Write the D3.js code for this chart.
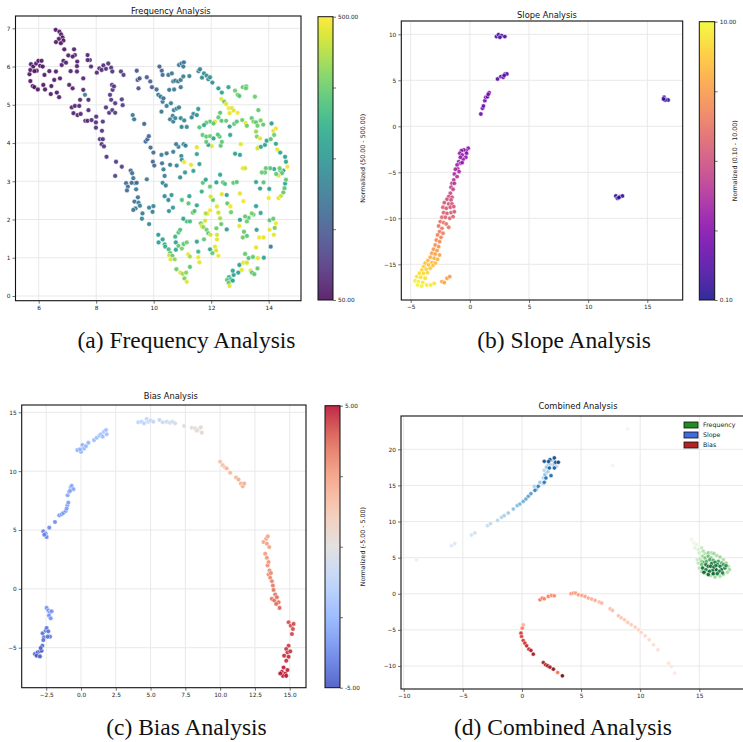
<!DOCTYPE html>
<html><head><meta charset="utf-8">
<script src="https://cdn.jsdelivr.net/npm/d3@7"></script>
<style>body{margin:0;background:#fff}svg{display:block}</style>
</head><body>
<script>
// ---------------- DATA ----------------
const titles = ["Frequency Analysis","Slope Analysis","Bias Analysis","Combined Analysis"];
const captions = ["(a) Frequency Analysis","(b) Slope Analysis","(c) Bias Analysis","(d) Combined Analysis"];
const cbLabels = ["Normalized (50.00 - 500.00)","Normalized (0.10 - 10.00)","Normalized (-5.00 - 5.00)"];
const legendNames = ["Frequency","Slope","Bias"];
const ticksA = {x:[6,8,10,12,14], y:[0,1,2,3,4,5,6,7]};
const ticksB = {x:[-5,0,5,10,15], y:[-15,-10,-5,0,5,10]};
const ticksC = {x:[-2.5,0,2.5,5,7.5,10,12.5,15], y:[-5,0,5,10,15]};
const ticksD = {x:[-10,-5,0,5,10,15], y:[-10,-5,0,5,10,15,20]};
const rangeA = [50,500], rangeB = [0.1,10], rangeC = [-5,5];

// Frequency: [x, y, value]
const freqPoints = [
[6.59,6.96,60],[6.72,6.91,58],[6.78,6.84,62],[6.83,6.76,60],[6.70,6.72,58],[6.86,6.68,62],[6.60,6.64,60],[6.77,6.61,58],[6.89,6.45,64],
[5.68,5.80,60],[5.71,5.91,62],[5.73,6.06,60],[5.81,6.00,58],[5.91,6.08,62],[5.99,6.15,60],[6.10,6.15,64],[6.05,6.02,60],[6.14,6.00,62],[5.93,5.89,58],[5.85,5.88,60],[5.71,5.62,62],[5.79,5.49,60],[5.85,5.46,58],[5.97,5.40,62],[6.16,5.52,60],[6.20,5.78,64],[6.22,5.40,60],[6.37,5.88,66],[6.44,5.49,62],[6.42,5.28,60],[6.54,5.65,64],[6.60,5.87,66],[6.63,5.32,62],[6.71,5.20,64],[6.74,5.69,66],[6.80,6.04,68],[6.86,6.15,66],[6.95,6.10,70],[7.03,6.29,68],[7.11,5.88,72],[7.23,6.45,70],[7.26,6.30,72],[7.34,6.13,70],[7.33,6.01,74],[7.18,6.26,70],[7.06,5.52,72],[7.18,5.43,74],[7.33,5.87,76],[7.55,5.69,78],[7.55,5.39,76],[7.15,4.93,74],[7.26,4.97,76],[7.41,4.97,78],[7.44,5.13,80],[7.61,5.26,230],[7.73,5.13,82],[7.21,4.78,76],[7.35,4.73,78],[7.46,4.76,80],[7.70,6.30,80],[7.78,6.17,82],[7.70,6.17,84],[7.82,6.00,82],[7.73,4.86,84],[7.62,4.58,86],[7.70,4.58,84],[7.84,4.60,88],[8.00,4.69,90],[7.99,4.54,88],[7.99,4.40,92],[8.02,5.84,86],[8.11,5.95,88],[8.19,5.91,90],[8.25,6.03,92],[8.34,5.94,94],[8.42,6.08,96],[8.52,5.97,98],[8.56,5.87,100],[8.23,4.56,96],[8.20,4.32,98],[8.13,4.10,94],[8.23,4.10,100],[8.19,3.97,96],[8.27,3.91,102],[8.36,3.64,104],[8.34,4.93,96],[8.45,4.79,100],[8.52,5.13,102],[8.48,5.26,98],[8.57,5.39,104],[8.55,5.52,100],[8.62,5.48,106],[8.66,5.04,104],[8.56,4.86,102],[8.66,4.79,108],[8.89,5.14,110],[8.92,4.99,112],[8.86,5.87,108],[8.95,5.78,112],[8.69,3.51,110],[8.66,3.14,116],[8.89,3.38,118],
[9.27,4.73,210],[9.32,4.62,210],[9.41,5.89,150],[9.44,5.65,140],[9.51,5.69,150],[9.47,5.43,140],[9.67,4.50,170],[9.76,5.72,160],[9.88,5.61,170],[9.94,5.46,160],
[9.72,4.04,180],[9.78,4.10,170],[9.83,4.18,180],[9.89,3.88,190],[9.99,3.75,200],[9.97,3.51,180],[10.02,3.41,190],
[10.27,3.69,220],[10.29,3.47,200],[10.34,3.31,230],[10.38,3.14,220],[10.31,2.96,240],[10.42,2.89,230],[10.38,2.61,250],[10.51,2.51,240],[10.62,2.64,270],[10.53,2.22,260],[10.67,2.31,280],[10.45,3.73,210],[10.57,3.43,220],[10.80,3.41,240],[10.92,3.10,260],[11.09,3.23,280],[10.96,3.66,240],[10.86,3.90,230],[10.78,3.97,220],[10.68,3.77,230],[11.04,3.97,250],[11.11,3.93,230],[10.98,3.56,260],
[10.10,5.40,190],[10.16,5.26,200],[10.24,5.21,210],[10.31,5.08,220],[10.27,4.82,210],[10.34,5.17,200],[10.45,4.97,220],[10.60,5.04,230],[10.70,4.86,220],[10.80,4.90,240],[10.88,4.93,230],[10.66,4.71,220],[10.57,4.62,210],[10.68,4.56,230],[10.75,4.65,240],[10.94,4.65,250],[11.06,4.59,240],[10.97,4.42,230],[11.15,4.42,250],
[10.20,6.00,170],[10.28,5.89,180],[10.31,5.78,190],[10.51,5.78,200],[10.63,5.82,210],[10.68,5.61,200],[10.71,5.40,220],[10.54,5.39,210],[10.75,5.63,220],[10.85,5.61,210],[10.94,5.65,220],[11.03,5.74,230],[10.94,5.46,210],[10.88,6.04,200],[10.97,6.08,210],[11.05,6.11,200],[11.03,6.00,220],[11.24,5.75,230],[11.38,4.76,260],[11.50,4.73,250],[11.55,4.89,270],[11.32,4.67,240],[11.56,5.88,240],[11.61,5.93,230],[11.68,5.71,250],[11.75,5.82,240],[11.84,5.76,260],[11.90,5.67,250],[11.96,5.72,270],[12.04,5.58,260],[12.25,5.43,280],[12.37,5.32,300],
[9.29,3.08,200],[9.35,2.95,210],[9.39,2.79,220],[9.23,2.96,190],[9.04,2.95,180],[9.10,2.86,200],[9.07,2.76,190],[9.20,3.28,180],[9.25,3.21,190],[9.41,2.96,200],[9.33,2.47,200],[9.37,2.29,210],[9.47,2.44,220],[9.52,2.36,230],[9.29,2.25,210],[9.61,2.16,220],[9.59,2.02,240],[9.84,2.31,230],[9.99,2.35,240],[9.96,2.20,230],[9.84,1.88,240],[9.45,2.58,200],[9.76,3.05,210],
[10.16,1.60,280],[10.31,1.48,300],[10.17,1.40,290],[10.38,1.35,320],[10.40,1.29,330],[10.52,1.22,350],[10.57,1.12,360],[10.54,1.06,470],[10.65,1.05,380],[10.59,0.96,480],[10.73,0.96,420],[10.77,1.21,300],[10.77,1.40,290],[10.86,1.66,370],[10.92,1.73,360],[10.75,1.55,340],[10.86,1.31,380],[10.98,1.24,400],[11.04,1.36,370],[11.15,1.40,390],[10.79,0.70,390],[10.93,0.61,470],[11.01,0.58,430],[11.07,0.46,400],[11.15,0.37,480],[11.13,0.61,410],[11.26,0.76,370],[11.20,1.09,480],[11.26,1.03,440],[11.55,1.01,490],[11.59,0.88,480],[11.15,1.95,360],[11.03,2.02,300],[11.26,1.95,350],[10.98,2.51,360],[11.21,2.42,370],[11.24,2.61,300],[11.36,2.18,380],[11.42,2.22,360],[11.50,2.37,310],[11.50,1.42,300],[11.55,1.16,340],[11.64,1.90,390],[11.67,1.83,470],[11.73,1.80,420],[11.79,1.97,470],[11.87,2.15,480],[11.96,2.24,490],[11.81,2.16,440],[11.75,1.48,380],[11.84,1.73,390],[11.90,1.64,370],[11.98,1.60,470],[11.96,1.22,300],[12.13,1.29,480],[12.17,1.19,470],[12.25,1.05,490],[12.04,1.12,380],[12.20,1.48,480],[12.20,1.60,470],[12.18,1.77,390],[12.06,2.51,380],[11.67,2.73,330],[11.71,2.96,370],[11.96,2.86,380],[11.98,2.60,470],[12.20,2.34,480],[12.25,2.18,460],[12.31,2.03,440],[12.35,1.88,380],[12.18,2.97,290],[12.31,3.17,300],[12.37,2.66,480],[12.41,2.97,370],[12.48,2.93,360],[12.54,2.64,300],[12.56,2.42,380],[12.67,2.34,490],[12.69,2.19,390],[12.54,1.74,290],[12.77,2.96,380],[12.89,2.98,370],[13.00,2.68,480],[13.12,2.48,490],[13.10,3.34,480],[13.18,3.34,470],[13.03,3.97,480],[13.00,3.69,290],[12.83,3.72,300],[12.33,3.93,370],[12.37,4.03,380],[12.29,4.17,360],[12.66,4.21,300],[12.64,4.43,290],[12.80,4.50,380],[12.89,4.56,370],[13.08,4.60,390],[13.20,4.52,480],[13.24,4.45,390],[13.41,4.65,380],[13.47,4.56,400],[13.56,4.54,380],[13.61,4.45,390],[13.72,4.59,400],[13.81,4.48,380],[13.64,4.86,380],[13.56,4.30,420],[13.59,4.17,400],[13.70,4.12,480],[13.64,3.90,490],[13.61,3.86,470],[13.73,3.90,300],[13.87,3.95,290],[13.93,4.06,300],[14.07,4.10,370],[14.10,4.51,290],[14.16,4.32,480],[14.25,4.38,490],[14.19,4.21,390],[14.25,3.98,300],[14.30,3.83,480],[14.40,3.75,300],[14.57,3.64,290],[14.60,3.51,300],[14.65,3.38,490],[14.51,3.28,300],[14.40,3.28,380],[14.46,3.21,370],[14.38,3.34,390],[14.34,3.15,480],[14.26,3.19,380],[14.19,3.32,300],[14.05,3.34,370],[13.90,3.34,380],[13.87,3.23,370],[13.76,3.23,390],[13.56,2.98,300],[13.82,2.97,370],[14.02,2.80,300],[14.00,2.56,490],[14.34,2.56,480],[14.43,2.62,460],[14.51,2.71,380],[14.55,2.82,370],[14.57,2.94,300],[14.60,3.04,380],[13.70,2.81,290],[13.56,2.35,290],[13.72,2.17,300],[13.47,2.13,380],[13.30,2.04,370],[13.18,2.08,380],[13.24,1.95,390],[13.41,2.16,400],[13.00,1.99,290],[12.98,1.83,480],[13.14,1.68,380],[13.24,1.57,370],[13.10,1.53,390],[13.58,1.73,290],[13.56,1.27,480],[13.67,1.53,490],[13.82,1.53,480],[14.03,1.98,370],[14.16,2.02,380],[14.03,1.73,480],[14.25,1.90,490],[14.21,1.78,390],[14.18,1.60,480],[14.07,1.29,220],[13.18,1.10,380],[13.30,0.99,370],[13.12,0.87,480],[13.24,0.87,470],[12.98,0.81,290],[13.06,0.68,480],[12.94,0.61,290],[13.45,1.02,380],[13.62,0.99,480],[13.83,1.00,300],[13.61,0.72,380],[13.37,0.66,480],[13.42,0.61,370],[13.50,0.57,380],[12.78,0.55,290],[12.75,0.66,300],[12.62,0.49,290],[12.67,0.44,370],[12.55,0.42,380],[12.61,0.34,370],[12.64,0.26,480],[12.75,0.40,300],
[13.10,5.46,380],[13.22,5.48,370],[13.21,5.43,390],[12.92,5.26,380],[12.98,5.23,370],[12.83,5.37,390],[12.60,5.46,300],[12.35,5.15,480],[12.45,5.08,380],[12.52,5.02,480],[12.61,4.91,490],[12.72,4.91,470],[12.78,4.85,480],[12.92,4.79,490],[12.64,4.78,480],[12.31,4.79,370],[12.25,4.67,380],[12.13,4.56,480],[11.96,4.56,370],[11.83,4.53,380],[11.75,4.47,300],[11.59,4.41,370],[11.70,4.21,380],[11.83,4.17,370],[11.96,4.18,390],[12.08,4.12,300],[12.02,3.92,480],[11.90,3.95,300],[11.83,4.03,380],[12.23,4.22,370],[12.08,4.51,380],[12.36,4.58,370],[12.52,4.58,380],[13.52,5.21,390],[11.50,3.89,480],[11.50,3.71,300],[11.59,3.45,290],[11.30,3.43,480],[11.06,3.50,490],[11.38,3.27,300],[11.81,3.04,300]
];

// Slope: [x, y, value]
const slopePoints = [
[-0.14,-2.39,2.6],[-0.31,-2.64,2.7],[-0.51,-2.57,2.6],[-0.71,-2.64,2.8],[-0.85,-2.93,2.9],[-0.65,-3.12,2.8],[-0.28,-2.93,2.7],[-0.34,-3.37,2.9],[-0.57,-3.59,3.0],[-0.80,-3.37,3.0],[-0.94,-3.84,3.1],[-0.80,-4.02,3.2],[-1.08,-4.20,3.3],[-0.65,-3.95,3.1],
[-1.02,-4.64,3.5],[-1.22,-4.67,3.6],[-0.91,-4.93,3.7],[-1.31,-5.18,3.8],[-1.08,-5.47,3.9],[-1.36,-5.83,4.0],[-1.51,-6.20,4.2],[-1.31,-6.20,4.1],[-1.59,-6.63,4.5],[-1.42,-6.85,4.6],[-1.65,-7.28,4.8],[-1.79,-7.64,5.0],[-1.51,-7.72,4.9],
[-1.93,-7.93,5.2],[-1.59,-8.01,5.1],[-2.16,-8.30,5.3],[-1.79,-8.44,5.3],[-1.51,-8.44,5.2],[-2.27,-8.80,5.4],[-1.99,-8.91,5.4],[-1.65,-8.80,5.3],[-1.36,-8.73,5.4],[-2.22,-9.38,5.6],[-1.93,-9.46,5.5],[-1.59,-9.38,5.6],[-1.31,-9.28,5.5],[-2.36,-9.89,5.8],[-2.07,-9.89,5.7],[-1.70,-10.0,5.8],[-1.42,-9.82,5.7],
[-2.50,-10.36,6.2],[-2.22,-10.47,6.2],[-1.99,-10.62,6.3],[-1.79,-10.98,6.4],[-2.64,-10.83,6.3],[-2.36,-11.09,6.5],[-2.56,-11.45,6.5],[-2.27,-11.63,6.6],[-2.73,-11.81,6.7],[-2.44,-12.07,6.8],
[-2.84,-12.36,7.0],[-2.56,-12.54,7.0],[-2.93,-12.90,7.2],[-2.64,-13.08,7.3],[-3.07,-13.37,7.4],[-2.78,-13.51,7.5],[-3.21,-13.80,7.6],[-2.93,-13.88,7.7],[-2.56,-13.99,7.8],
[-3.35,-14.24,8.0],[-3.01,-14.35,8.1],[-2.73,-14.46,8.2],[-3.55,-14.60,8.3],[-3.21,-14.82,8.4],[-2.93,-14.89,8.3],[-3.78,-14.89,8.6],[-3.49,-15.07,8.5],[-3.13,-15.14,8.6],
[-3.92,-15.25,9.0],[-4.06,-15.62,9.1],[-3.69,-15.54,8.9],[-3.35,-15.43,8.8],[-4.26,-15.98,9.3],[-3.92,-15.98,9.2],[-3.58,-15.91,9.1],[-4.49,-16.34,9.5],[-4.15,-16.41,9.4],[-3.78,-16.52,9.3],[-4.63,-16.78,9.7],[-4.35,-16.88,9.8],[-3.98,-16.99,9.6],[-4.43,-17.25,9.9],[-4.06,-17.36,9.8],[-3.64,-17.25,9.7],[-3.30,-17.25,9.6],[-3.01,-17.07,9.5],
[-2.36,-16.88,7.8],[-2.16,-16.99,7.9],[-1.93,-16.52,7.6],[-1.70,-16.34,7.5],
[2.25,9.75,1.0],[2.42,9.96,1.1],[2.70,9.86,1.0],[2.96,9.75,1.1],[2.54,9.67,1.2],
[2.34,5.14,1.4],[2.62,5.40,1.3],[2.82,5.33,1.4],[2.99,5.69,1.3],[3.13,5.69,1.4],[2.90,5.54,1.5],
[0.93,1.34,2.0],[1.07,1.96,2.1],[1.15,2.21,2.0],[1.27,2.79,2.2],[1.35,3.15,2.1],[1.49,3.22,2.0],[1.63,3.66,2.1],[1.55,3.48,2.2],
[16.42,3.15,0.6],[16.56,2.93,0.7],[16.76,2.86,0.6],[16.51,2.86,0.7],[16.37,2.97,0.6],
[12.34,-7.57,0.6],[12.48,-7.83,0.7],[12.68,-7.64,0.6],[12.90,-7.57,0.7],[12.60,-7.75,0.6]
];

// Bias: [x, y, value]
const biasPoints = [
[-3.31,-5.54,-4.8],[-3.12,-5.40,-4.8],[-2.95,-5.31,-4.7],[-3.19,-5.68,-4.9],[-2.95,-5.74,-4.8],[-2.83,-5.26,-4.7],[-2.78,-4.83,-4.6],[-2.90,-5.03,-4.7],
[-2.76,-3.78,-4.3],[-2.66,-4.12,-4.4],[-2.54,-3.55,-4.2],[-2.47,-3.32,-4.2],[-2.35,-3.61,-4.3],[-2.23,-4.06,-4.4],[-2.40,-4.06,-4.3],[-2.71,-4.35,-4.4],
[-2.47,-1.62,-3.5],[-2.35,-1.85,-3.6],[-2.23,-1.99,-3.5],[-2.11,-1.90,-3.4],[-2.30,-2.27,-3.6],[-2.18,-2.50,-3.5],
[-2.71,4.89,-3.9],[-2.54,4.69,-3.8],[-2.47,4.40,-3.8],[-2.64,4.60,-3.9],[-2.28,5.20,-3.7],[-1.87,5.68,-3.6],
[-1.56,6.25,-3.4],[-1.39,6.34,-3.3],[-1.27,6.45,-3.3],[-1.10,6.62,-3.2],[-0.98,7.10,-3.2],[-1.03,6.82,-3.1],[-0.91,7.33,-3.1],
[-0.96,7.95,-3.0],[-0.86,8.24,-3.0],[-0.74,8.61,-2.9],[-0.67,8.75,-2.9],[-0.55,8.47,-3.0],[-0.79,8.32,-2.9],
[-0.26,11.79,-2.7],[0.0,11.65,-2.7],[0.10,12.22,-2.6],[0.22,11.93,-2.6],[0.36,12.13,-2.5],[0.53,12.41,-2.5],[-0.07,11.85,-2.6],
[0.94,12.64,-2.3],[1.13,12.84,-2.2],[1.32,13.01,-2.2],[1.44,13.13,-2.1],[1.65,13.35,-2.0],[1.80,13.49,-2.0],[1.85,13.13,-2.0],[1.56,12.93,-2.1],
[4.12,14.15,-1.3],[4.36,14.20,-1.3],[4.53,14.06,-1.2],[4.72,14.43,-1.2],[4.84,14.20,-1.1],[5.01,14.29,-1.1],[5.20,14.20,-1.0],
[5.64,14.35,-0.9],[5.88,14.15,-0.8],[6.16,14.20,-0.7],[6.40,14.12,-0.6],[6.59,14.20,-0.6],[6.76,14.06,-0.5],[7.41,13.84,-0.2],
[7.96,13.69,0.2],[8.20,13.64,0.3],[8.44,13.55,0.3],[8.61,13.72,0.4],[8.68,13.27,0.4],[8.32,13.44,0.3],
[10.0,10.80,1.5],[10.19,10.51,1.6],[10.36,10.31,1.6],[10.48,10.23,1.7],[10.72,9.86,1.8],[11.15,9.46,1.9],[11.32,9.29,2.0],[11.49,8.95,2.0],[11.63,8.72,2.1],[11.73,8.95,2.1],
[13.12,3.98,2.4],[13.31,4.26,2.4],[13.43,4.46,2.3],[13.36,3.83,2.5],[13.24,2.98,2.6],[13.36,2.64,2.7],[13.48,2.27,2.8],[13.41,1.99,2.8],[13.55,1.56,2.9],[13.48,1.22,3.0],[13.65,1.34,3.0],[13.60,0.94,3.1],[13.72,0.65,3.2],[13.79,0.28,3.3],[13.84,-0.09,3.4],[13.96,-0.48,3.5],[13.72,-0.85,3.6],[13.89,-0.99,3.6],[14.08,-0.71,3.6],[14.20,-1.14,3.7],[14.27,-1.62,3.8],[14.03,-1.28,3.7],[13.53,3.55,2.5],
[14.92,-2.84,4.1],[15.08,-3.13,4.2],[15.23,-3.41,4.2],[15.16,-3.84,4.3],[15.28,-2.98,4.2],
[14.92,-4.83,4.4],[14.75,-5.11,4.5],[14.84,-5.40,4.5],[15.04,-5.31,4.5],[14.60,-5.68,4.6],[14.92,-5.77,4.6],[14.75,-6.11,4.6],
[14.56,-6.68,4.8],[14.44,-7.05,4.9],[14.68,-7.19,4.9],[14.84,-6.90,4.8],[14.51,-7.39,4.9],[14.32,-7.19,4.9],[14.75,-7.39,5.0]
];

// Combined: [x, y, intensity 0-1]
const combSlope = [
[8.95,22.82,0.06],[7.66,17.74,0.05],[-8.93,4.71,0.10],[-5.96,6.65,0.15],[-5.68,6.93,0.16],[-4.27,8.13,0.20],[-3.98,8.41,0.22],[-2.91,9.42,0.26],[-2.66,9.70,0.28],[-2.06,10.16,0.30],[-1.72,10.58,0.33],[-1.50,10.81,0.35],[-1.16,11.18,0.38],[-0.73,11.73,0.42],[-0.40,12.19,0.45],[-0.17,12.42,0.48],[0.11,12.79,0.52],[0.34,13.12,0.55],[0.54,13.49,0.56],[0.76,13.86,0.60],[1.24,14.50,0.40],[1.05,14.87,0.35],[1.53,15.43,0.40],[1.81,16.03,0.35],[1.95,16.49,0.45],[2.09,16.81,0.40],[1.89,17.09,0.30],[2.09,17.55,0.45],[2.23,17.88,0.35],[2.66,17.88,0.40],[2.40,17.90,0.30],[1.80,15.20,0.30],[2.90,17.60,0.35],[2.60,18.50,0.35],[2.00,15.90,0.25],[2.20,16.90,0.35],
[1.10,14.32,0.70],[1.38,14.87,0.72],[1.89,15.43,0.75],[2.03,16.03,0.78],[2.46,16.35,0.80],[2.32,17.41,0.85],[2.74,17.41,0.88],[1.89,18.34,0.90],[2.37,18.57,0.88],[2.74,18.80,0.95],[2.85,18.20,0.92],[3.08,18.20,0.95],[2.25,18.30,0.90]
];
const combFreq = [
[14.35,7.49,0.08],[14.55,7.03,0.10],[14.77,6.80,0.12],[14.63,6.34,0.14],[14.92,6.11,0.18],[15.20,6.34,0.25],[15.00,5.65,0.22],[15.34,5.88,0.35],[15.48,5.55,0.30],[15.28,5.18,0.40],[15.76,5.65,0.45],[16.04,5.65,0.35],[16.24,5.55,0.40],[16.47,5.28,0.35],[16.75,5.09,0.40],[17.03,4.72,0.35],[17.26,4.26,0.40],[17.45,3.80,0.35],[17.54,3.34,0.40],[17.37,2.97,0.35],[17.03,2.65,0.40],[16.75,2.41,0.35],[16.33,2.32,0.40],[15.96,2.51,0.35],[15.62,2.78,0.30],[15.20,3.11,0.35],[15.00,3.57,0.30],[14.92,4.26,0.30],[14.83,4.72,0.25],[15.06,4.82,0.30],
[15.48,4.95,0.50],[15.76,5.18,0.55],[15.99,4.95,0.50],[15.20,4.49,0.45],[15.39,4.35,0.60],[15.20,4.03,0.55],[15.62,4.49,0.60],[15.90,4.72,0.65],[16.18,4.63,0.60],[16.61,4.49,0.65],[16.89,4.26,0.60],[17.03,4.03,0.70],
[15.28,3.57,0.90],[15.56,4.03,0.85],[15.76,3.80,0.90],[16.04,4.17,0.85],[16.33,4.35,0.80],[16.52,4.03,0.90],[16.75,3.80,0.85],[16.89,3.34,0.90],[16.69,3.11,0.85],[16.41,3.34,0.95],[16.13,3.25,0.85],[15.85,3.11,0.90],[15.56,3.34,0.80],[15.39,2.97,0.95],[15.76,2.65,0.90],[16.18,2.78,0.95],[16.52,2.78,0.85],[16.97,2.88,0.80],[17.17,3.57,0.85],[17.26,3.89,0.75],[15.96,3.80,0.90],[16.24,3.71,0.95],[16.40,3.90,0.80]
];
const combBias = [
[1.53,-0.83,0.50],[1.72,-0.60,0.48],[1.89,-0.69,0.45],[2.23,-0.37,0.45],[2.51,-0.23,0.42],[2.74,-0.28,0.42],
[4.15,0.00,0.40],[4.35,0.09,0.38],[4.55,0.09,0.36],[4.77,-0.14,0.35],[5.06,-0.23,0.34],[5.34,-0.37,0.33],[5.62,-0.60,0.32],[5.90,-0.74,0.30],[6.19,-0.92,0.30],[6.55,-1.15,0.28],[6.75,-1.29,0.28],[7.46,-2.08,0.26],[7.66,-2.31,0.25],[8.16,-3.05,0.24],[8.39,-3.33,0.23],[8.67,-3.60,0.22],[8.95,-3.97,0.21],[9.24,-4.30,0.20],[9.58,-4.62,0.19],[9.86,-4.99,0.18],[10.08,-5.36,0.17],[10.42,-5.82,0.16],[10.76,-6.37,0.15],[11.13,-7.07,0.14],[11.50,-7.76,0.13],[12.40,-9.61,0.11],[12.63,-10.07,0.10],[12.91,-10.99,0.08],
[0.11,-4.30,0.30],[0.03,-4.76,0.45],[-0.08,-5.45,0.70],[-0.03,-5.91,0.65],[0.11,-6.47,0.70],[0.25,-6.84,0.72],[0.40,-7.21,0.75],[0.59,-7.67,0.80],[0.76,-7.85,0.82],[0.96,-8.36,0.88],
[1.81,-9.52,0.85],[2.01,-9.84,0.88],[2.18,-9.98,0.90],[2.37,-10.16,0.88],[2.66,-10.44,0.92],[3.02,-10.90,0.50],[3.42,-11.36,0.98]
];

// ---------------- RENDER ----------------
const W = 743, H = 742;
const FONT = "DejaVu Sans, sans-serif";
const svg = d3.select("body").append("svg").attr("width", W).attr("height", H);
svg.append("rect").attr("width", W).attr("height", H).attr("fill", "#fff");
const defs = svg.append("defs");

const coolwarm = d3.piecewise(d3.interpolateRgb, ["#3b4cc0","#6282ea","#8db0fe","#b8d0f9","#dddcdc","#f5c4ac","#f49a7b","#de604d","#b40426"]);

function panel(o) {
  const x = d3.scaleLinear().domain(o.xRef).range(o.xPx);
  const y = d3.scaleLinear().domain(o.yRef).range(o.yPx);
  const [L, R, T, B] = o.box;
  const cid = "clip" + o.id;
  defs.append("clipPath").attr("id", cid).append("rect").attr("x", L).attr("y", T).attr("width", R - L).attr("height", B - T);
  const g = svg.append("g");
  const grid = g.append("g").attr("clip-path", `url(#${cid})`);
  o.ticks.x.forEach(t => grid.append("line").attr("x1", x(t)).attr("x2", x(t)).attr("y1", T).attr("y2", B).attr("stroke", "#e6e6e6").attr("stroke-width", 0.9));
  o.ticks.y.forEach(t => grid.append("line").attr("y1", y(t)).attr("y2", y(t)).attr("x1", L).attr("x2", R).attr("stroke", "#e6e6e6").attr("stroke-width", 0.9));
  const pts = g.append("g").attr("clip-path", `url(#${cid})`);
  o.series.forEach(s => {
    pts.append("g").selectAll("circle").data(s.data).join("circle")
      .attr("cx", d => x(d[0])).attr("cy", d => y(d[1])).attr("r", s.r)
      .attr("fill", d => s.color(d[2])).attr("fill-opacity", s.op)
      .attr("stroke", "#fff").attr("stroke-width", 0.55).attr("stroke-opacity", 0.9);
  });
  g.append("rect").attr("x", L).attr("y", T).attr("width", R - L).attr("height", B - T)
    .attr("fill", "none").attr("stroke", "#111").attr("stroke-width", 1.1);
  const xa = g.append("g").attr("transform", `translate(0,${B})`)
    .call(d3.axisBottom(x).tickValues(o.ticks.x).tickFormat(o.xFmt).tickSize(3).tickPadding(2));
  const ya = g.append("g").attr("transform", `translate(${L},0)`)
    .call(d3.axisLeft(y).tickValues(o.ticks.y).tickFormat(o.yFmt).tickSize(3).tickPadding(2));
  [xa, ya].forEach(a => {
    a.select(".domain").remove();
    a.selectAll("line").attr("stroke", "#333").attr("stroke-width", 0.7);
    a.selectAll("text").attr("font-family", FONT).attr("font-size", 5.8).attr("fill", "#222");
  });
  g.append("text").attr("x", (L + Math.min(R, W)) / 2 + (o.titleDx || 0)).attr("y", o.titleY)
    .attr("text-anchor", "middle").attr("font-family", FONT).attr("font-size", 8.3).attr("fill", "#111").text(o.title);
  return {x, y, g};
}

function colorbar(o) {
  const [L, R, T, B] = o.box;
  const gid = "grad" + o.id;
  const grad = defs.append("linearGradient").attr("id", gid).attr("x1", 0).attr("y1", 1).attr("x2", 0).attr("y2", 0);
  d3.range(0, 1.0001, 0.05).forEach(t => grad.append("stop").attr("offset", t).attr("stop-color", o.interp(t)));
  const g = svg.append("g");
  g.append("rect").attr("x", L).attr("y", T).attr("width", R - L).attr("height", B - T)
    .attr("fill", `url(#${gid})`).attr("fill-opacity", 0.85);
  g.append("rect").attr("x", L).attr("y", T).attr("width", R - L).attr("height", B - T)
    .attr("fill", "none").attr("stroke", "#111").attr("stroke-width", 1);
  const s = d3.scaleLinear().domain(o.domain).range([B, T]);
  const tv = d3.range(5).map(i => o.domain[0] + (o.domain[1] - o.domain[0]) * i / 4);
  const ax = g.append("g").attr("transform", `translate(${R},0)`)
    .call(d3.axisRight(s).tickValues(tv).tickSize(3).tickPadding(2)
      .tickFormat((d, i) => (i === 0 || i === 4) ? d3.format(".2f")(d).replace("\u2212", "-") : ""));
  ax.select(".domain").remove();
  ax.selectAll("line").attr("stroke", "#333").attr("stroke-width", 0.7);
  ax.selectAll("text").attr("font-family", FONT).attr("font-size", 5.8).attr("fill", "#222");
  g.append("text").attr("transform", `translate(${o.labelX},${(T + B) / 2}) rotate(-90)`)
    .attr("text-anchor", "middle").attr("font-family", FONT).attr("font-size", 6.3).attr("fill", "#222").text(o.label);
}

const fmtInt = d3.format("d");
const fmt1 = d3.format(".1f");

// (a) Frequency
panel({id:"a", box:[15.5,301,16,300.7], xRef:[6,14], xPx:[38.7,268.7], yRef:[0,7], yPx:[296,28.3],
  ticks:ticksA, xFmt:fmtInt, yFmt:fmtInt, title:titles[0], titleY:13.5, titleDx:12.5,
  series:[{data:freqPoints, r:2.4, op:0.88, color:v => d3.interpolateViridis((v - rangeA[0]) / (rangeA[1] - rangeA[0]))}]});
colorbar({id:"a", box:[318,333,16.7,300], domain:rangeA, interp:d3.interpolateViridis, label:cbLabels[0], labelX:365});

// (b) Slope
panel({id:"b", box:[401.3,682.7,21,300], xRef:[-5,15], xPx:[410.7,647.3], yRef:[-15,10], yPx:[264.3,34.3],
  ticks:ticksB, xFmt:fmtInt, yFmt:fmtInt, title:titles[1], titleY:17.5, titleDx:5,
  series:[{data:slopePoints, r:2.2, op:0.88, color:v => d3.interpolatePlasma((v - rangeB[0]) / (rangeB[1] - rangeB[0]))}]});
colorbar({id:"b", box:[699.3,714.7,21.7,300], domain:rangeB, interp:d3.interpolatePlasma, label:cbLabels[1], labelX:737});

// (c) Bias
panel({id:"c", box:[21.7,306,405,687.7], xRef:[0,15], xPx:[81,289.7], yRef:[-5,15], yPx:[647.7,412.3],
  ticks:ticksC, xFmt:fmt1, yFmt:fmtInt, title:titles[2], titleY:398.7, titleDx:7,
  series:[{data:biasPoints, r:2.3, op:0.88, color:v => coolwarm((v - rangeC[0]) / (rangeC[1] - rangeC[0]))}]});
colorbar({id:"c", box:[325,340,405.7,687.7], domain:rangeC, interp:coolwarm, label:cbLabels[2], labelX:365});

// (d) Combined
panel({id:"d", box:[401,765,416,689], xRef:[-10,15], xPx:[403.7,699.3], yRef:[-10,20], yPx:[666,449.3],
  ticks:ticksD, xFmt:fmtInt, yFmt:fmtInt, title:titles[3], titleY:409.3, titleDx:6,
  series:[
    {data:combFreq, r:2.1, op:0.9, color:t => d3.interpolateGreens(t)},
    {data:combSlope, r:2.1, op:0.9, color:t => d3.interpolateBlues(t)},
    {data:combBias, r:2.1, op:0.9, color:t => d3.interpolateReds(t)}
  ]});
const legendColors = ["#228b22","#4169e1","#b22222"];
const lg = svg.append("g");
legendNames.forEach((n, i) => {
  const yy = 425 + i * 10;
  lg.append("rect").attr("x", 684).attr("y", yy - 3).attr("width", 14).attr("height", 6)
    .attr("fill", legendColors[i]).attr("stroke", "#111").attr("stroke-width", 0.8);
  lg.append("text").attr("x", 703).attr("y", yy + 2.2).attr("font-family", FONT).attr("font-size", 6.3).attr("fill", "#222").text(n);
});

// Captions
const capPos = [[186.5,348],[564,348],[186.5,735],[563,735]];
captions.forEach((c, i) => svg.append("text").attr("x", capPos[i][0]).attr("y", capPos[i][1])
  .attr("text-anchor", "middle").attr("font-family", "Liberation Serif, Times New Roman, serif")
  .attr("font-size", 23.5).attr("fill", "#111").text(c));
</script>
</body></html>
